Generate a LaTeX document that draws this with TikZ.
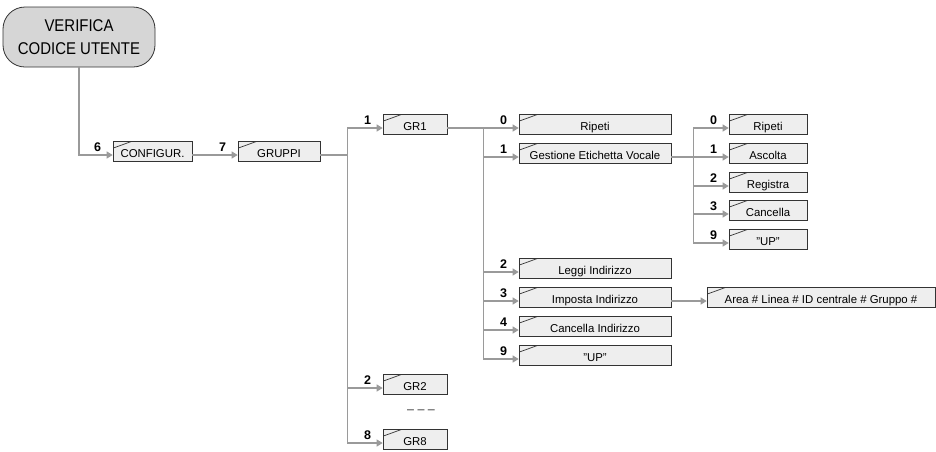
\documentclass[tikz,border=0pt]{standalone}
\usepackage{fontspec}
\setmainfont{Liberation Sans}
\newfontfamily\condfont{Liberation Sans}[FakeStretch=0.88]
\usepackage{xcolor}
\definecolor{boxline}{HTML}{333333}
\definecolor{boxfill}{HTML}{EEEEEE}
\definecolor{rootfill}{HTML}{D6D6D6}
\definecolor{wiregray}{HTML}{9A9A9A}
\usetikzlibrary{arrows.meta}
\tikzset{
    rootbox/.style={draw=boxline, fill=rootfill, rounded corners=22pt, line width=0.8pt, align=center, minimum width=152pt, minimum height=60pt, font=\condfont\fontsize{17}{23}\selectfont},
    menu/.style={draw=boxline, fill=boxfill, line width=0.6pt, anchor=mid, inner xsep=0pt, inner ysep=0pt, text height=16pt, text depth=4pt, font=\fontsize{11.4}{13.7}\selectfont,
        path picture={\draw[boxline, line width=0.7pt] ([yshift=-6.5pt]path picture bounding box.north west) -- ([xshift=18pt]path picture bounding box.north west);}},
    wire/.style={draw=wiregray, line width=1.1pt},
    link/.style={wire, -{Triangle[length=6pt, width=7pt]}},
    num/.style={anchor=south east, xshift=-10pt, yshift=2pt, inner sep=1pt, font=\bfseries\fontsize{12.5}{14}\selectfont}
}

\begin{document}
\begin{tikzpicture}[x=1pt, y=-1pt]
  \useasboundingbox (0,0) rectangle (936,451);

  % Root
  \node[rootbox] (verifica) at (79,37) {VERIFICA\\CODICE UTENTE};

  % Main menu
  \node[menu, minimum width=79pt] (configur) at (152.5,155) {CONFIGUR.};
  \node[menu, minimum width=82pt] (gruppi) at (279,155) {GRUPPI};

  % Groups
  \node[menu, minimum width=64pt] (gr1) at (415,128) {GR1};
  \node[menu, minimum width=64pt] (gr2) at (415,388) {GR2};
  \node[text=boxline, font=\fontsize{12.5}{14}\selectfont] (gr_dots) at (421,412) {– – –};
  \node[menu, minimum width=64pt] (gr8) at (415,443) {GR8};

  % GR1 submenu
  \node[menu, minimum width=152pt] (rip1) at (595,128) {Ripeti};
  \node[menu, minimum width=152pt] (gest) at (595,157) {Gestione Etichetta Vocale};
  \node[menu, minimum width=152pt] (leggi) at (595,272) {Leggi Indirizzo};
  \node[menu, minimum width=152pt] (imposta) at (595,301) {Imposta Indirizzo};
  \node[menu, minimum width=152pt] (canc_ind) at (595,330) {Cancella Indirizzo};
  \node[menu, minimum width=152pt] (up1) at (595,359) {"UP"};

  % Voice label submenu
  \node[menu, minimum width=78pt] (rip2) at (768,128) {Ripeti};
  \node[menu, minimum width=78pt] (ascolta) at (768,157) {Ascolta};
  \node[menu, minimum width=78pt] (registra) at (768,186) {Registra};
  \node[menu, minimum width=78pt] (cancella) at (768,214) {Cancella};
  \node[menu, minimum width=78pt] (up2) at (768,243) {"UP"};

  % Address
  \node[menu, minimum width=228pt] (area) at (821,301) {Area \# Linea \# ID centrale \# Gruppo \#};

  % Connectors
  \draw[link] (verifica.south) |- (configur.mid west) node[num] {6};
  \draw[link] (configur.mid east) -- (gruppi.mid west) node[num] {7};

  \draw[wire] (gruppi.mid east) -- ++(27,0) coordinate (bus_gr);
  \draw[link] (bus_gr) |- (gr1.mid west) node[num] {1};
  \draw[link] (bus_gr) |- (gr2.mid west) node[num] {2};
  \draw[link] (bus_gr) |- (gr8.mid west) node[num] {8};

  \draw[wire] (gr1.mid east) -- ++(36,0) coordinate (bus_gr1);
  \foreach \entry/\n in {rip1/0, gest/1, leggi/2, imposta/3, canc_ind/4, up1/9}
    \draw[link] (bus_gr1) |- (\entry.mid west) node[num] {\n};

  \draw[wire] (gest.mid east) -- ++(22,0) coordinate (bus_gest);
  \draw[link] (gest.mid east) -- (ascolta.mid west) node[num] {1};
  \foreach \entry/\n in {rip2/0, registra/2, cancella/3, up2/9}
    \draw[link] (bus_gest) |- (\entry.mid west) node[num] {\n};

  \draw[link] (imposta.mid east) -- (area.mid west);
\end{tikzpicture}
\end{document}
